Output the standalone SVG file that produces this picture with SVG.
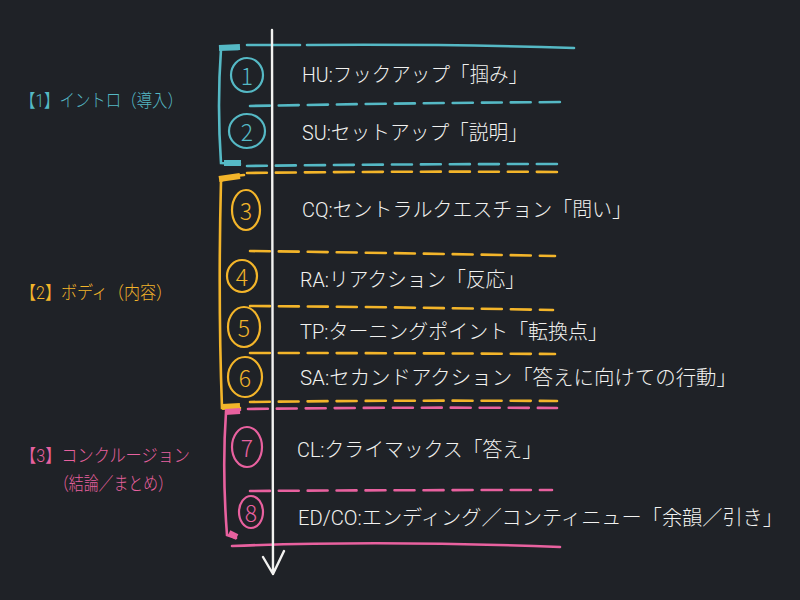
<svg xmlns="http://www.w3.org/2000/svg" width="800" height="600" viewBox="0 0 800 600">
<style>
.bg{fill:#1f2227}
.t{font-family:Roboto,"Noto Sans CJK JP",sans-serif;font-size:20px;font-weight:300;fill:#f2f2f0;dominant-baseline:central}
.lab{font-family:Roboto,"Noto Sans CJK JP",sans-serif;font-size:18px;font-weight:300;dominant-baseline:central}
.num{font-family:"Noto Sans CJK JP","Noto Sans",sans-serif;font-size:23px;font-weight:300;text-anchor:middle;dominant-baseline:central}
.ln{fill:none;stroke-width:2.6;stroke-linecap:round}
.dash{stroke-dasharray:20 9}
.circ{fill:none;stroke-width:2.2}
.tab{stroke-width:6;stroke-linecap:butt;fill:none}
.cy{stroke:#55b9c5}
.or{stroke:#f3b52a}
.pk{stroke:#e8619f}
.fcy{fill:#55b9c5}
.for{fill:#f3b52a}
.fpk{fill:#e8619f}
</style>
<rect class="bg" x="0" y="0" width="800" height="600"/>

<g id="section-intro">
  <path class="ln cy" d="M238 49 L221 49 Q217 105 221 163 L240 164"/>
  <path class="tab cy" d="M219 48 L240 47"/>
  <path class="tab cy" d="M224 163 L241 163"/>
  <text class="lab fcy" x="20" y="100" textLength="163" lengthAdjust="spacingAndGlyphs">【1】イントロ（導入）</text>
</g>
<g id="section-body">
  <path class="ln or" d="M244 175 Q228 176 221 181 Q218 300 222 408 L240 408"/>
  <path class="tab or" d="M219 179 L240 176"/>
  <path class="tab or" d="M222 407 L240 406"/>
  <text class="lab for" x="20" y="292" textLength="152" lengthAdjust="spacingAndGlyphs">【2】ボディ（内容）</text>
</g>
<g id="section-conclusion">
  <path class="ln pk" d="M240 410 L226 412 Q222 470 227 535 L236 538"/>
  <path class="tab pk" d="M225 412 L240 411"/>
  <path class="tab pk" d="M229 533 L237 537"/>
  <text class="lab fpk" x="20" y="455" textLength="170" lengthAdjust="spacingAndGlyphs">【3】コンクルージョン</text>
  <text class="lab fpk" x="54" y="483" textLength="119" lengthAdjust="spacingAndGlyphs">（結論／まとめ）</text>
</g>

<g id="connectors">
  <path class="ln cy" d="M247 45 L300 45 M307 45 Q450 44 574 48"/>
  <path class="ln cy dash" d="M250 106 Q400 103 568 102"/>
  <path class="ln cy dash" d="M247 166 Q400 164 565 164"/>
  <path class="ln or dash" d="M247 173 Q400 171 565 172"/>
  <path class="ln or dash" d="M250 251 Q400 253 555 256"/>
  <path class="ln or dash" d="M250 306 Q400 307 553 310"/>
  <path class="ln or dash" d="M250 353 Q400 353 555 354"/>
  <path class="ln or dash" d="M250 402 Q400 400 557 401"/>
  <path class="ln pk dash" d="M248 409 Q400 407 557 408"/>
  <path class="ln pk dash" d="M250 491 Q400 490 552 490"/>
  <path class="ln pk" d="M232 546 Q380 540 560 547"/>
  <path fill="none" stroke="#f2f2f0" stroke-width="2.4" stroke-linecap="round" stroke-linejoin="round" d="M272 30 L273 574 M263 557 L273 574 L284 551"/>
</g>

<g id="n1">
  <ellipse class="circ cy" cx="247" cy="75" rx="16" ry="17"/>
  <text class="num fcy" x="247" y="75">1</text>
  <text class="t" x="302" y="75" textLength="226" lengthAdjust="spacingAndGlyphs">HU:フックアップ「掴み」</text>
</g>
<g id="n2">
  <ellipse class="circ cy" cx="247" cy="131" rx="18" ry="17"/>
  <text class="num fcy" x="247" y="131">2</text>
  <text class="t" x="302" y="133" textLength="226" lengthAdjust="spacingAndGlyphs">SU:セットアップ「説明」</text>
</g>
<g id="n3">
  <ellipse class="circ or" cx="246" cy="210" rx="14" ry="20"/>
  <text class="num for" x="246" y="210">3</text>
  <text class="t" x="302" y="210" textLength="330" lengthAdjust="spacingAndGlyphs">CQ:セントラルクエスチョン「問い」</text>
</g>
<g id="n4">
  <ellipse class="circ or" cx="242" cy="276" rx="15" ry="16"/>
  <text class="num for" x="242" y="276">4</text>
  <text class="t" x="300" y="280" textLength="225" lengthAdjust="spacingAndGlyphs">RA:リアクション「反応」</text>
</g>
<g id="n5">
  <ellipse class="circ or" cx="244" cy="327" rx="16" ry="20"/>
  <text class="num for" x="244" y="327">5</text>
  <text class="t" x="300" y="332" textLength="308" lengthAdjust="spacingAndGlyphs">TP:ターニングポイント「転換点」</text>
</g>
<g id="n6">
  <ellipse class="circ or" cx="245" cy="377" rx="17" ry="20"/>
  <text class="num for" x="245" y="377">6</text>
  <text class="t" x="300" y="378" textLength="437" lengthAdjust="spacingAndGlyphs">SA:セカンドアクション「答えに向けての行動」</text>
</g>
<g id="n7">
  <ellipse class="circ pk" cx="247" cy="447" rx="15" ry="20"/>
  <text class="num fpk" x="247" y="447">7</text>
  <text class="t" x="297" y="450" textLength="245" lengthAdjust="spacingAndGlyphs">CL:クライマックス「答え」</text>
</g>
<g id="n8">
  <ellipse class="circ pk" cx="251" cy="512" rx="12" ry="16"/>
  <text class="num fpk" x="251" y="512">8</text>
  <text class="t" x="298" y="518" textLength="485" lengthAdjust="spacingAndGlyphs">ED/CO:エンディング／コンティニュー「余韻／引き」</text>
</g>
</svg>
